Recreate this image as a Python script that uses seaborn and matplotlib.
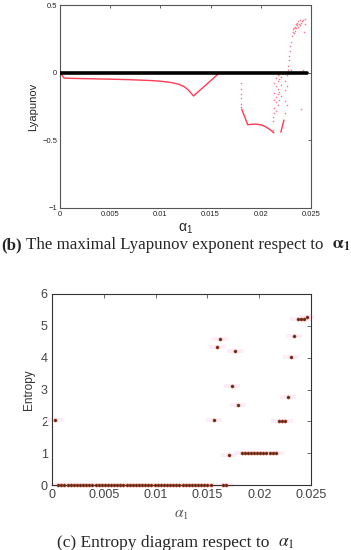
import numpy as np
import pandas as pd
import seaborn as sns
import matplotlib
matplotlib.use("Agg")
import matplotlib.pyplot as plt

# ---------------- data ----------------
# (b) maximal Lyapunov exponent
zero_x = [0.0, 0.02457]
zero_y = [0.0, 0.0]

seg1_x = [0.0, 0.0004, 0.001, 0.003, 0.005, 0.007, 0.009, 0.010, 0.011, 0.0118,
          0.0124, 0.0128, 0.0131, 0.0133, 0.0159]
seg1_y = [0.0, -0.040, -0.042, -0.045, -0.048, -0.052, -0.058, -0.063, -0.072, -0.085,
          -0.105, -0.130, -0.155, -0.172, 0.0]

seg2_x = [0.0181, 0.0187, 0.0190, 0.0195, 0.0200, 0.0205, 0.0210, 0.0213]
seg2_y = [-0.27, -0.385, -0.382, -0.380, -0.385, -0.400, -0.425, -0.445]

seg3_x = [0.0220, 0.0223]
seg3_y = [-0.44, -0.35]

scat_x = [0.0180, 0.0180, 0.0180, 0.0180, 0.0180, 0.0180,
          0.02117, 0.02117, 0.02117,
          0.0213, 0.0213, 0.0213, 0.0213, 0.0213,
          0.0215, 0.0215, 0.0215, 0.0215, 0.0215,
          0.02167, 0.02167, 0.02167, 0.02167, 0.02167,
          0.0218, 0.0218, 0.0218, 0.0218,
          0.0220, 0.0220, 0.0220,
          0.0224, 0.0224, 0.0224, 0.0224,
          0.0226, 0.0226, 0.0226,
          0.0227, 0.0227, 0.0228, 0.0228, 0.0229, 0.0229, 0.0230, 0.0230,
          0.0231, 0.0232, 0.0232, 0.0233, 0.0233, 0.0234, 0.0234, 0.0235, 0.0235,
          0.0236, 0.0236, 0.0237, 0.0237, 0.0238, 0.0239, 0.0239, 0.0240, 0.0240,
          0.0241, 0.0242, 0.0242, 0.0243, 0.0244, 0.0244]
scat_y = [-0.08, -0.12, -0.155, -0.19, -0.23, -0.255,
          -0.33, -0.36, -0.42,
          -0.08, -0.15, -0.20, -0.26, -0.30,
          -0.04, -0.10, -0.18, -0.22, -0.28,
          -0.02, -0.06, -0.12, -0.16, -0.24,
          -0.01, -0.05, -0.14, -0.20,
          -0.03, -0.09, -0.17,
          -0.06, -0.13, -0.21, -0.30,
          -0.02, -0.10, -0.24,
          0.02, 0.05, 0.09, 0.12, 0.16, 0.20, 0.23, 0.02,
          0.27, 0.30, 0.32, 0.29, 0.33, 0.34, 0.31, 0.36, 0.33,
          0.35, 0.37, 0.38, 0.34, 0.36, 0.39, 0.35, -0.27, 0.37,
          0.38, 0.02, 0.39, 0.30, 0.36, 0.40]

# (c) entropy diagram
ent_alpha = [round(0.0003 * k, 5) for k in range(1, 83)]
ent_value = ([2.03] + [0.0] * 50 +
             [2.03, 4.33, 4.60, 0.0, 0.0, 0.93, 3.10, 4.20, 2.50] +
             [1.0] * 12 +
             [2.0, 2.0, 2.0, 2.75, 4.02, 4.67, 5.22, 5.22, 5.22, 5.28])

top_xticks = [0, 0.005, 0.01, 0.015, 0.02, 0.025]
top_xlabels = ["0", "0.005", "0.01", "0.015", "0.02", "0.025"]
top_yticks = [-1, -0.5, 0, 0.5]
top_ylabels = ["\u22121", "\u22120.5", "0", "0.5"]
bot_yticks = [0, 1, 2, 3, 4, 5, 6]

# ---------------- style ----------------
sns.set_theme(style="white")
plt.rcParams['font.family'] = ['Liberation Sans', 'DejaVu Sans']

W, H = 351, 550
fig = plt.figure(figsize=(W / 100, H / 100), dpi=100)
fig.patch.set_facecolor("white")

def box(l, t, r, b):
    return [l / W, 1 - b / H, (r - l) / W, (b - t) / H]

RED = "#ff3b55"

# ---- top axes ----
ax1 = fig.add_axes(box(60, 5, 311, 208))
df_zero = pd.DataFrame({"a": zero_x, "v": zero_y})
df_s1 = pd.DataFrame({"a": seg1_x, "v": seg1_y})
df_s2 = pd.DataFrame({"a": seg2_x, "v": seg2_y})
df_s3 = pd.DataFrame({"a": seg3_x, "v": seg3_y})
df_sc = pd.DataFrame({"a": scat_x, "v": scat_y})

for d in (df_s1, df_s2, df_s3):
    sns.lineplot(data=d, x="a", y="v", ax=ax1, color=RED, lw=1.0,
                 sort=False, estimator=None)
sns.scatterplot(data=df_sc, x="a", y="v", ax=ax1, color=RED, s=1.3,
                marker="o", linewidth=0, alpha=0.7)
sns.lineplot(data=df_zero, x="a", y="v", ax=ax1, color="black", lw=2.6,
             sort=False, estimator=None, zorder=5)

ax1.set_xlim(0, 0.025)
ax1.set_ylim(-1, 0.5)
ax1.set_xticks(top_xticks)
ax1.set_xticklabels(top_xlabels)
ax1.set_yticks(top_yticks)
ax1.set_yticklabels(top_ylabels)
ax1.tick_params(direction="in", length=2.5, width=0.5, labelsize=5.5,
                top=True, right=True, colors="#222222", pad=2)
for s in ax1.spines.values():
    s.set_color("#555555")
    s.set_linewidth(0.8)
ax1.set_xlabel(r"$\mathregular{\alpha_1}$", fontsize=10, labelpad=3)
ax1.set_ylabel("Lyapunov", fontsize=8, labelpad=3)

# ---- bottom axes ----
ax2 = fig.add_axes(box(52, 294, 311, 485))
df_ent = pd.DataFrame({"a": ent_alpha, "e": ent_value})
# faint pink halos (as in the source rendering)
halo = [(-3, -0.6), (3, -0.6), (3, 0.6), (-3, 0.6)]
ax2.scatter(df_ent["a"], df_ent["e"], marker=halo, s=120, color="#fdedf8",
            linewidths=0, zorder=1, clip_on=False)
sns.scatterplot(data=df_ent, x="a", y="e", ax=ax2, color="#4a3412",
                edgecolor="#c0392b", linewidth=0.4, s=5, zorder=3, clip_on=False)
ax2.set_xlim(0, 0.025)
ax2.set_ylim(0, 6)
ax2.set_xticks(top_xticks)
ax2.set_xticklabels(top_xlabels)
ax2.set_yticks(bot_yticks)
ax2.tick_params(direction="in", length=3, width=0.5, labelsize=9,
                top=True, right=True, colors="#333333", labelcolor="#444444", pad=3)
for s in ax2.spines.values():
    s.set_color("#333333")
    s.set_linewidth(0.8)
ax2.set_xlabel(r"$\alpha_1$", fontsize=11, color="#555555", labelpad=5,
               math_fontfamily="stix")
ax2.set_ylabel("Entropy", fontsize=8.5, color="#333333", labelpad=4)

# ---- captions ----
serif = ['Liberation Serif', 'DejaVu Serif']
fig.canvas.draw()
renderer = fig.canvas.get_renderer()

def caption(parts, y_px, fs):
    texts = []
    for txt, wt, mf in parts:
        kw = dict(fontsize=fs, family=serif, fontweight=wt, va="baseline", ha="left")
        if mf:
            kw["math_fontfamily"] = mf
        t = fig.text(0, 1 - y_px / H, txt, **kw)
        texts.append(t)
    widths = [t.get_window_extent(renderer).width for t in texts]
    total = sum(widths)
    x = (W - total) / 2
    for t, w in zip(texts, widths):
        t.set_x(x / W)
        x += w

caption([("(b)", "bold", None),
         (" The maximal Lyapunov exponent respect to  ", "normal", None),
         (r"$\mathbf{\alpha_1}$", "bold", "stix")], 249, 12.2)
caption([("(c) Entropy diagram respect to  ", "normal", None),
         (r"$\alpha_1$", "normal", "stix")], 547, 12.5)

fig.savefig("out.png", dpi=100, facecolor="white")
